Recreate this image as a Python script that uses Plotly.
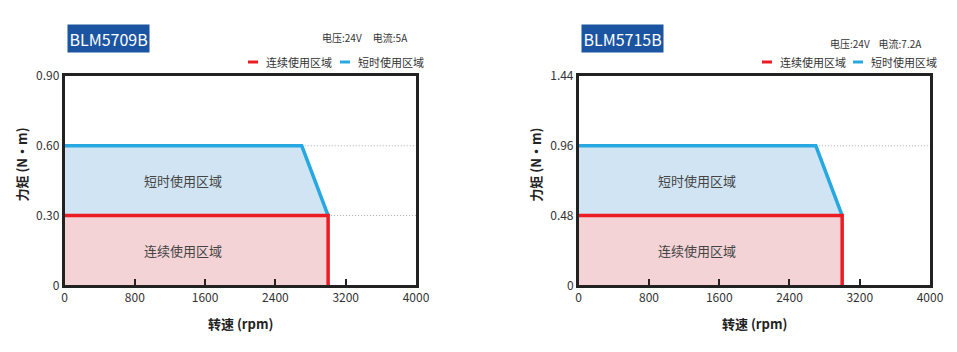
import plotly.graph_objects as go

# ---- data ----
models = ["BLM5709B", "BLM5715B"]
specs = ["电压:24V &#160;&#160;&#160;&#160;电流:5A", "电压:24V &#160;&#160;&#160;电流:7.2A"]
rated_speed = [3000, 3000]          # rpm, end of continuous region
knee_speed = [2700, 2700]           # rpm, where short-time torque starts to fall
rated_torque = [0.30, 0.48]         # N·m continuous
peak_torque = [0.60, 0.96]          # N·m short-time
y_max = [0.90, 1.44]
y_ticks = [[0, 0.30, 0.60, 0.90], [0, 0.48, 0.96, 1.44]]
y_ticktext = [["0", "0.30", "0.60", "0.90"], ["0", "0.48", "0.96", "1.44"]]
x_ticks = [0, 800, 1600, 2400, 3200, 4000]
x_max = 4000
dotted_levels = [[0.30, 0.60], [0.96]]
legend_names = ["连续使用区域", "短时使用区域"]
region_labels = ["短时使用区域", "连续使用区域"]

RED = "#ec1c24"
BLUE = "#27a8e0"
RED_FILL = "#f3d3d6"
BLUE_FILL = "#d0e4f3"
FONT = "Noto Sans CJK SC"

W, H = 957, 352
x_dom = [[64.5 / W, 416 / W], [578.7 / W, 930 / W]]
y_dom = [(H - 285.3) / H, (H - 76) / H]

fig = go.Figure()
layout = dict(
    width=W, height=H, margin=dict(l=0, r=0, t=0, b=0, autoexpand=False),
    paper_bgcolor="white", plot_bgcolor="white", showlegend=False,
    font=dict(family=FONT, color="#333", size=12),
)
annotations = []
shapes = []


def px(xp, yp):
    return xp / W, (H - yp) / H


for i in range(2):
    xa = "x" if i == 0 else "x2"
    ya = "y" if i == 0 else "y2"
    rt, pt, rs, ks = rated_torque[i], peak_torque[i], rated_speed[i], knee_speed[i]

    # fills
    fig.add_trace(go.Scatter(x=[0, ks, rs, 0, 0], y=[pt, pt, rt, rt, pt], fill="toself",
                             fillcolor=BLUE_FILL, line=dict(width=0), mode="lines",
                             xaxis=xa, yaxis=ya, hoverinfo="skip"))
    fig.add_trace(go.Scatter(x=[0, rs, rs, 0, 0], y=[0, 0, rt, rt, 0], fill="toself",
                             fillcolor=RED_FILL, line=dict(width=0), mode="lines",
                             xaxis=xa, yaxis=ya, hoverinfo="skip"))
    # dotted guide lines
    for lv in dotted_levels[i]:
        x0 = ks if abs(lv - pt) < 1e-9 else rs
        fig.add_trace(go.Scatter(x=[x0, x_max], y=[lv, lv], mode="lines",
                                 line=dict(color="#aaa", width=1, dash="1px,2px"),
                                 xaxis=xa, yaxis=ya, hoverinfo="skip"))
    # curves
    fig.add_trace(go.Scatter(x=[0, ks, rs], y=[pt, pt, rt], mode="lines",
                             line=dict(color=BLUE, width=3.5), xaxis=xa, yaxis=ya,
                             name=legend_names[1]))
    fig.add_trace(go.Scatter(x=[0, rs, rs], y=[rt, rt, 0], mode="lines",
                             line=dict(color=RED, width=3.5), xaxis=xa, yaxis=ya,
                             name=legend_names[0]))

    # region labels
    annotations.append(dict(x=ks / 2, y=(pt + rt) / 2, xref=xa, yref=ya, text=region_labels[0],
                            showarrow=False, font=dict(size=13, color="#444")))
    annotations.append(dict(x=ks / 2, y=rt / 2, xref=xa, yref=ya, text=region_labels[1],
                            showarrow=False, font=dict(size=13, color="#444")))

    axis_common = dict(showline=True, mirror=True, linecolor="#222", linewidth=2.5,
                       showgrid=False, zeroline=False, automargin=False)
    layout["xaxis" if i == 0 else "xaxis2"] = dict(
        domain=x_dom[i], range=[0, x_max], tickvals=x_ticks, ticks="inside", ticklen=7,
        tickwidth=2, tickcolor="#222", anchor=ya, tickfont=dict(size=12, color="#333"),
        **axis_common)
    layout["yaxis" if i == 0 else "yaxis2"] = dict(
        domain=y_dom, range=[0, y_max[i]], tickvals=y_ticks[i], ticktext=y_ticktext[i],
        ticks="", anchor=xa, tickfont=dict(size=12, color="#333"), **axis_common)

    x0p, x1p = x_dom[i]
    left_px = x0p * W
    # model title box
    bx, by = px(left_px + 2.5, 23.5)
    annotations.append(dict(x=bx, y=by, xref="paper", yref="paper",
                            text=models[i], showarrow=False, xanchor="left", yanchor="top",
                            bgcolor="#1b55a2", font=dict(size=16, color="white", family=FONT),
                            borderpad=1.5))
    # specs
    sx, sy = px(x1p * W - 6, 37 if i == 0 else 43)
    annotations.append(dict(x=sx, y=sy, xref="paper", yref="paper",
                            text=specs[i], showarrow=False, xanchor="right", yanchor="middle",
                            font=dict(size=10, color="#333")))
    # legend
    lx = [248, 340] if i == 0 else [762, 853]
    ly = 62
    for k, (col, nm) in enumerate(zip([RED, BLUE], legend_names)):
        x0s, y0s = px(lx[k], ly)
        x1s, _ = px(lx[k] + 10, ly)
        shapes.append(dict(type="line", xref="paper", yref="paper",
                           x0=x0s, x1=x1s, y0=y0s, y1=y0s,
                           line=dict(color=col, width=3)))
        tx, ty = px(lx[k] + 16, ly)
        annotations.append(dict(x=tx, y=ty, xref="paper", yref="paper",
                                text=nm, showarrow=False, xanchor="left", yanchor="middle",
                                font=dict(size=11, color="#333")))
    # axis titles
    ax_, ay_ = px((x0p + x1p) / 2 * W, 323)
    annotations.append(dict(x=ax_, y=ay_, xref="paper", yref="paper",
                            text="<b>转速 (rpm)</b>", showarrow=False, xanchor="center",
                            yanchor="middle", font=dict(size=13, color="#222")))
    yx, yy = px(left_px - 44, 165)
    annotations.append(dict(x=yx, y=yy, xref="paper", yref="paper",
                            text="<b>力矩 (N·m)</b>", showarrow=False, textangle=-90,
                            xanchor="center", yanchor="middle", font=dict(size=13, color="#222")))

layout["annotations"] = annotations
layout["shapes"] = shapes
fig.update_layout(**layout)
fig.write_html("out.html")
